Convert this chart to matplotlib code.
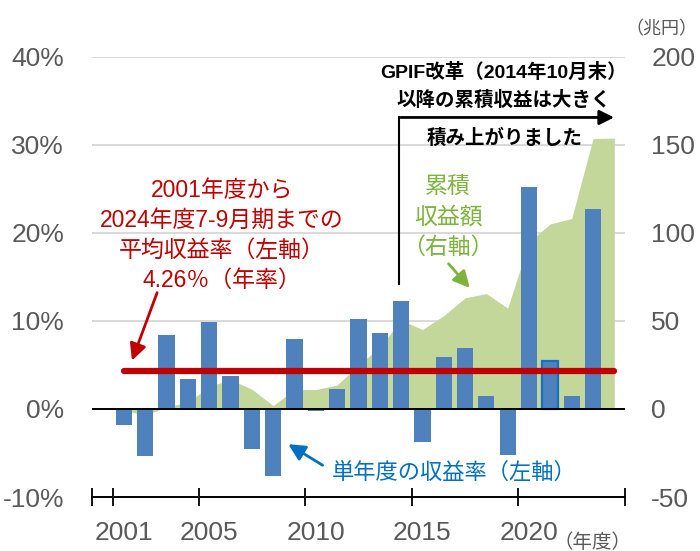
import matplotlib
matplotlib.use("Agg")
import matplotlib.pyplot as plt
import numpy as np

plt.rcParams['font.family'] = ['Liberation Sans', 'Noto Sans CJK JP']

# fiscal years of the cumulative series (2001-2024 Q2)
years = np.arange(2001, 2025)
# single-year return rate, %, left axis (2001-2023)
bar_years = np.arange(2001, 2024)
returns = [-1.80, -5.36, 8.40, 3.39, 9.88, 3.70, -4.59, -7.57, 7.91, -0.25,
           2.32, 10.23, 8.64, 12.27, -3.81, 5.86, 6.90, 1.52, -5.20, 25.15,
           5.42, 1.50, 22.67]
# cumulative return, trillion yen, right axis
cumulative = [-0.6, -3.7, 1.2, 3.8, 12.8, 16.7, 11.2, 1.9, 11.1, 11.0,
              13.6, 24.9, 35.1, 50.4, 45.1, 53.0, 63.1, 65.5, 57.2, 95.0,
              105.1, 108.1, 153.5, 153.8]
avg_return = 4.26
highlight_year = 2021

left_ticks = [-10, 0, 10, 20, 30, 40]
right_ticks = [-50, 0, 50, 100, 150, 200]
x_label_years = [2001, 2005, 2010, 2015, 2020]

gray = '#595959'
bar_blue = '#4F81BD'
red = '#C00000'
green_fill = '#C4D79B'
green_text = '#7DB43E'
blue_text = '#0070C0'

fig = plt.figure(figsize=(7, 5.51), dpi=100)
ax = fig.add_axes([0.1314, 0.098, 0.7614, 0.7991])
ax2 = ax.twinx()
ax.set_zorder(2)
ax2.set_zorder(1)
ax.patch.set_visible(False)

# cumulative area on right axis
ax2.fill_between(years + 0.5, cumulative, 0, color=green_fill, lw=0)
ax2.set_ylim(-50, 200)
ax2.set_yticks(right_ticks)
ax2.set_yticklabels([str(v) for v in right_ticks])
ax2.yaxis.grid(True, color='#D9D9D9', lw=1.4)
ax2.set_axisbelow(True)
ax2.tick_params(axis='y', length=0, labelsize=19, labelcolor=gray, pad=19)
for s in ax2.spines.values():
    s.set_visible(False)

# yearly bars on left axis
bars = ax.bar(bar_years + 0.5, returns, width=0.76, color=bar_blue, zorder=2)
bars[list(bar_years).index(highlight_year)].set_edgecolor('#1570C8')
bars[list(bar_years).index(highlight_year)].set_linewidth(1.6)

ax.axhline(0, color='black', lw=1.4, zorder=3)
ax.plot([years[0] + 0.5, years[-1] + 0.5], [avg_return, avg_return],
        color=red, lw=4.5, solid_capstyle='round', zorder=4)

ax.set_ylim(-10, 40)
ax.set_xlim(2000, 2025)
ax.set_yticks(left_ticks)
ax.set_yticklabels([f'{v}%' for v in left_ticks])
ax.tick_params(axis='y', length=0, labelsize=19, labelcolor=gray, pad=20)

ax.set_xticks([2000, 2001, 2005, 2010, 2015, 2020, 2025])
ax.set_xticklabels([])
ax.set_xticks([y + 0.5 for y in x_label_years], minor=True)
ax.set_xticklabels([str(y) for y in x_label_years], minor=True)
ax.tick_params(axis='x', which='major', direction='inout', length=13, width=1.3, color='black')
ax.tick_params(axis='x', which='minor', length=0, labelsize=19, labelcolor=gray, pad=17)

for side in ['top', 'left', 'right']:
    ax.spines[side].set_visible(False)
ax.spines['bottom'].set_linewidth(1.4)

# annotations
ax.text(2006.1, 19.7, '2001年度から\n2024年度7-9月期までの\n平均収益率（左軸）\n4.26％（年率）',
        ha='center', va='center', color=red, fontsize=16.5, linespacing=1.4, zorder=5)
ax.annotate('', xy=(2001.83, 5.2), xytext=(2003.1, 13.5),
            arrowprops=dict(arrowstyle='-|>', color=red, lw=2, mutation_scale=25), zorder=5)

ax.text(2016.7, 21.8, '累積\n収益額\n（右軸）', ha='center', va='center',
        color=green_text, fontsize=16.5, linespacing=1.4, zorder=5)
ax.annotate('', xy=(2017.81, 13.5), xytext=(2016.64, 16.72),
            arrowprops=dict(arrowstyle='-|>', color=green_text, lw=2, mutation_scale=25), zorder=5)

ax.text(2017.0, -7.28, '単年度の収益率（左軸）', ha='center', va='center',
        color=blue_text, fontsize=16, zorder=5)
ax.annotate('', xy=(2009.1, -3.84), xytext=(2010.93, -6.56),
            arrowprops=dict(arrowstyle='-|>', color=blue_text, lw=2, mutation_scale=25), zorder=5)

ax.text(2019.32, 36.67, 'GPIF改革（2014年10月末）\n以降の累積収益は大きく', ha='center', va='center',
        color='black', fontsize=14, fontweight='bold', linespacing=1.6, zorder=5)
ax.text(2019.37, 30.76, '積み上がりました', ha='center', va='center',
        color='black', fontsize=14, fontweight='bold', zorder=5)
ax.plot([2014.4, 2014.4], [14.2, 33.1], color='black', lw=1.5, zorder=5)
ax.annotate('', xy=(2024.62, 33.1), xytext=(2014.35, 33.1),
            arrowprops=dict(arrowstyle='-|>', color='black', lw=2, mutation_scale=22), zorder=5)

fig.text(0.945, 0.947, '（兆円）', ha='center', va='center', color=gray, fontsize=13)
fig.text(0.847, 0.016, '（年度）', ha='center', va='center', color=gray, fontsize=14)

fig.savefig('out.png', dpi=100)
